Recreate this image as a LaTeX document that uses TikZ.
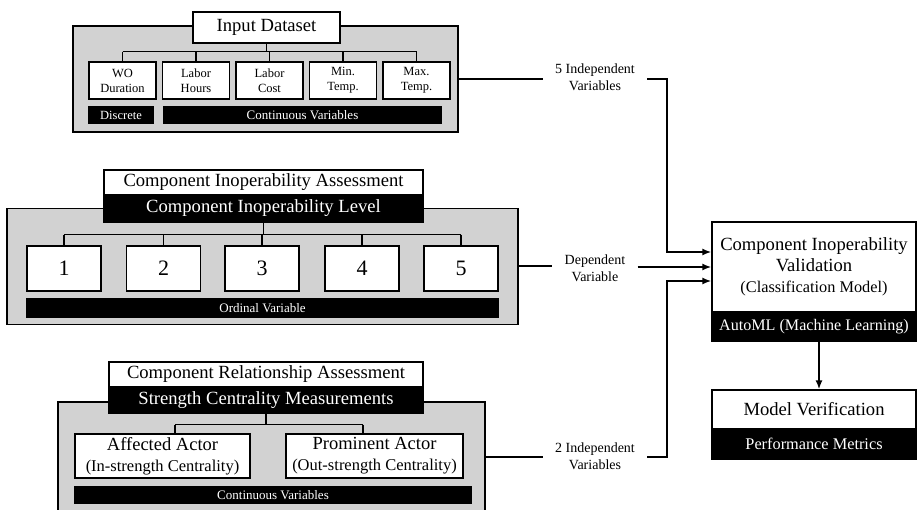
\documentclass[tikz,border=0pt]{standalone}
\usepackage{fontspec}
\setmainfont{Liberation Serif}
\usetikzlibrary{arrows.meta}
\definecolor{panelgray}{RGB}{210,210,210}
\newcommand{\fsz}[2]{\fontsize{#1}{#2}\selectfont}
\begin{document}
\begin{tikzpicture}[x=1pt,y=-1pt,
  panel/.style={draw, fill=panelgray, line width=1.2pt, inner sep=0pt},
  wbox/.style={draw, fill=white, line width=1.2pt, inner sep=0pt, align=center},
  bbar/.style={draw, fill=black, text=white, line width=1.2pt, inner sep=0pt, align=center},
  tree/.style={line width=1.4pt},
  conn/.style={line width=2pt},
  tip/.style={-{Latex[length=9pt,width=7pt]}},
  vlab/.style={align=center, inner xsep=12pt, inner ysep=2pt, font=\fsz{14}{17}},
  small/.style={font=\fsz{12.5}{15}},
  big/.style={font=\fsz{18.6}{22}}]
\useasboundingbox (0,0) rectangle (917,510);

% ---------- Input dataset ----------
\node[panel, minimum width=385pt, minimum height=106pt] (in) at (265.5,79) {};
\node[wbox, big, minimum width=147pt, minimum height=31pt] (inT) at (266.5,27.5) {Input Dataset};
\node[wbox, small, minimum width=67pt, minimum height=37pt] (wo) at (122.5,80.5) {WO\\Duration};
\node[wbox, small, minimum width=67pt, minimum height=37pt] (lh) at (196,80.5) {Labor\\Hours};
\node[wbox, small, minimum width=67pt, minimum height=37pt] (lc) at (269.5,80.5) {Labor\\Cost};
\node[wbox, small, minimum width=67pt, minimum height=37pt] (mn) at (343,80.5) {Min.\\Temp.};
\node[wbox, small, minimum width=67pt, minimum height=37pt] (mx) at (416.5,80.5) {Max.\\Temp.};
\node[bbar, small, minimum width=64pt, minimum height=16pt] (disc) at (121,115) {Discrete};
\node[bbar, font=\fsz{13}{15}, minimum width=277pt, minimum height=16pt] (cont) at (302.5,115) {Continuous Variables};
\draw[tree] (inT.south) -- ++(0,8) coordinate (inJ);
\draw[tree] (wo.north |- inJ) -- (mx.north |- inJ);
\foreach \b in {wo,lh,lc,mn,mx} \draw[tree] (\b.north |- inJ) -- (\b.north);

% ---------- Component inoperability assessment ----------
\node[panel, minimum width=511pt, minimum height=116pt] (ci) at (262.5,266.5) {};
\node[wbox, big, minimum width=319pt, minimum height=25pt] (ciT) at (263.5,182.5) {Component Inoperability Assessment};
\node[bbar, big, minimum width=319pt, minimum height=27pt] (ciL) at (263.5,208.5) {Component Inoperability Level};
\foreach \n/\x in {1/64,2/163.5,3/262,4/362,5/461}
  \node[wbox, font=\fsz{22}{26}, minimum width=74pt, minimum height=45pt] (l\n) at (\x,268.5) {\n};
\node[bbar, font=\fsz{13}{15}, minimum width=471pt, minimum height=18pt] (ord) at (262.5,308) {Ordinal Variable};
\draw[tree] (ciL.south) -- ++(0,12) coordinate (ciJ);
\draw[tree] (l1.north |- ciJ) -- (l5.north |- ciJ);
\foreach \n in {1,...,5} \draw[tree] (l\n.north |- ciJ) -- (l\n.north);

% ---------- Component relationship assessment ----------
\node[panel, minimum width=427pt, minimum height=110pt] (cr) at (271.5,457) {};
\node[wbox, big, minimum width=314pt, minimum height=25pt] (crT) at (266,374.5) {Component Relationship Assessment};
\node[bbar, big, minimum width=314pt, minimum height=26pt] (crS) at (266,400) {Strength Centrality Measurements};
\node[wbox, font=\fsz{18.5}{21}, minimum width=175pt, minimum height=44pt] (aff) at (162.5,456)
  {Affected Actor\\{\fsz{16.5}{21}(In-strength Centrality)}};
\node[wbox, font=\fsz{18.5}{21}, minimum width=177pt, minimum height=44pt] (pro) at (374.5,456)
  {Prominent Actor\\{\fsz{16.5}{21}(Out-strength Centrality)}};
\node[bbar, font=\fsz{13}{15}, minimum width=396pt, minimum height=16pt] (crB) at (273,495) {Continuous Variables};
\draw[tree] (crS.south) -- ++(0,11) coordinate (crJ);
\draw[tree] ([xshift=12.5pt]aff.north |- crJ) -- ([xshift=-11.5pt]pro.north |- crJ);
\draw[tree] ([xshift=12.5pt]aff.north |- crJ) -- ([xshift=12.5pt]aff.north);
\draw[tree] ([xshift=-11.5pt]pro.north |- crJ) -- ([xshift=-11.5pt]pro.north);

% ---------- Validation and verification ----------
\node[wbox, font=\fsz{18.6}{21}, minimum width=204pt, minimum height=90pt] (val) at (814,267)
  {Component Inoperability\\Validation\\{\fsz{16.3}{21}(Classification Model)}};
\node[bbar, font=\fsz{16.1}{19}, minimum width=204pt, minimum height=29pt] (valB) at (814,326.5) {AutoML (Machine Learning)};
\node[wbox, big, minimum width=204pt, minimum height=39pt] (mv) at (814,409.5) {Model Verification};
\node[bbar, font=\fsz{16.3}{19}, minimum width=204pt, minimum height=30pt] (mvB) at (814,444) {Performance Metrics};
\draw[conn, tip] ([xshift=5pt]valB.south) -- ([xshift=5pt]mv.north);

% ---------- Variable connectors ----------
\coordinate (bx) at (667,0);
\node[vlab] (l5lab) at (595,77) {5 Independent\\Variables};
\node[vlab] (ldep) at (595,268) {Dependent\\Variable};
\node[vlab] (l2lab) at (595,456) {2 Independent\\Variables};

\draw[conn] (in.east) -- (in.east -| l5lab.west);
\draw[conn, tip] (in.east -| l5lab.east) -| ([yshift=15pt]val.west -| bx) -- ([yshift=15pt]val.west);
\draw[conn] (ci.east) -- (ci.east -| ldep.west);
\draw[conn, tip] (ldep.east |- val.west) -- (val.west);
\draw[conn] (cr.east) -- (cr.east -| l2lab.west);
\draw[conn, tip] (cr.east -| l2lab.east) -| ([yshift=-14pt]val.west -| bx) -- ([yshift=-14pt]val.west);
\end{tikzpicture}
\end{document}
